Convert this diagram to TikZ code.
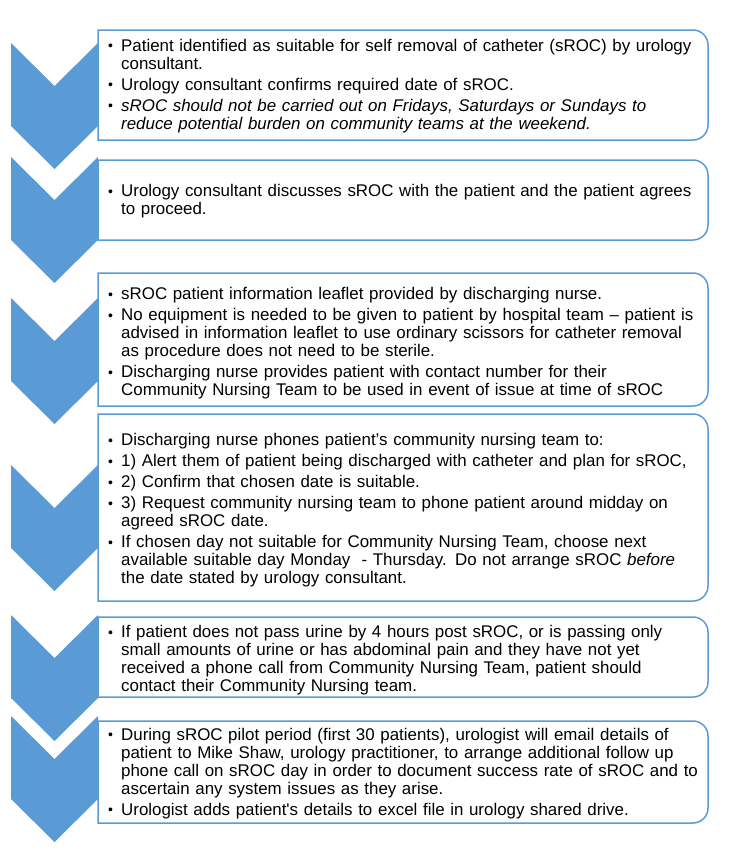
\documentclass[tikz,border=0pt]{standalone}
\usepackage{fontspec}
\setmainfont{Liberation Sans}
\definecolor{chev}{HTML}{5B9BD5}
\newcommand\bitem{\par\hangindent=13pt\hangafter=1\noindent\makebox[13pt][l]{\raisebox{0.5pt}{\fontsize{14}{14}\selectfont•}}}
\tikzset{
  chevronshape/.style={fill=chev,draw=none},
  boxline/.style={draw=chev,line width=1.5pt,fill=white},
  txt/.style={anchor=west,text width=640pt,inner sep=0pt,
    font=\fontsize{16.9}{18}\selectfont,
    execute at begin node={\raggedright\setlength{\parindent}{0pt}\setlength{\parskip}{3pt}}}
}
\begin{document}
\begin{tikzpicture}[x=1pt,y=-1pt]
\useasboundingbox (0,0) rectangle (748,860);
% chevrons
\foreach \t in {43,157,298,465,615,716}{
  \fill[chevronshape] (11,\t) -- (54.5,{\t+43}) -- (98,\t) -- (98,{\t+83}) -- (54.5,{\t+126}) -- (11,{\t+83}) -- cycle;
}
% boxes
\foreach \a/\b in {30/140,160/240,273/406,414/601,617/697,721/823}{
  \draw[boxline] (98,\a) -- (400,\a) [rounded corners=15pt] -- (708,\a) -- (708,\b) -- (400,\b) [sharp corners] -- (98,\b) -- cycle;
}
\node[txt] (t1) at (108,81.5) {%
\bitem Patient identified as suitable for self removal of catheter (sROC) by urology\newline consultant.
\bitem Urology consultant confirms required date of sROC.
\bitem \textit{sROC should not be carried out on Fridays, Saturdays or Sundays to\newline reduce potential burden on community teams at the weekend.}\par};
\node[txt] (t2) at (108,197) {%
\bitem Urology consultant discusses sROC with the patient and the patient agrees\newline to proceed.\par};
\node[txt] (t3) at (108,339) {%
\bitem sROC patient information leaflet provided by discharging nurse.
\bitem No equipment is needed to be given to patient by hospital team – patient is\newline advised in information leaflet to use ordinary scissors for catheter removal\newline as procedure does not need to be sterile.
\bitem Discharging nurse provides patient with contact number for their\newline Community Nursing Team to be used in event of issue at time of sROC\par};
\node[txt] (t4) at (108,506) {%
\bitem Discharging nurse phones patient’s community nursing team to:
\bitem 1) Alert them of patient being discharged with catheter and plan for sROC,
\bitem 2) Confirm that chosen date is suitable.
\bitem 3) Request community nursing team to phone patient around midday on\newline agreed sROC date.
\bitem If chosen day not suitable for Community Nursing Team, choose next\newline available suitable day Monday\ \ - Thursday. Do not arrange sROC \textit{before}\newline the date stated by urology consultant.\par};
\node[txt] (t5) at (108,656) {%
\bitem If patient does not pass urine by 4 hours post sROC, or is passing only\newline small amounts of urine or has abdominal pain and they have not yet\newline received a phone call from Community Nursing Team, patient should\newline contact their Community Nursing team.\par};
\node[txt] (t6) at (108,769) {%
\bitem During sROC pilot period (first 30 patients), urologist will email details of\newline patient to Mike Shaw, urology practitioner, to arrange additional follow up\newline phone call on sROC day in order to document success rate of sROC and to\newline ascertain any system issues as they arise.
\bitem Urologist adds patient\textquotesingle s details to excel file in urology shared drive.\par};
\end{tikzpicture}
\end{document}
